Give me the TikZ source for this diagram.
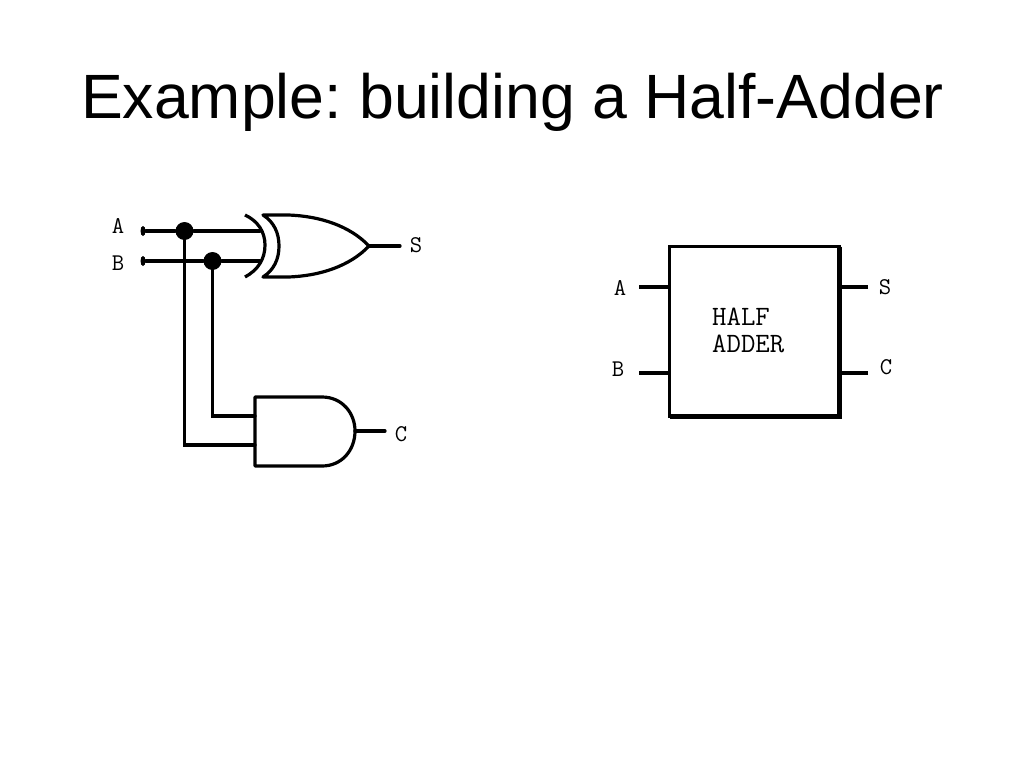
\documentclass[tikz,border=0pt]{standalone}
\usepackage{fontspec}
\setmainfont{Liberation Sans}
\usetikzlibrary{arrows, shapes.geometric}
\tikzstyle{wire} = [line width=3.2pt, line cap=round]
\tikzstyle{gate} = [line width=3.2pt, line join=round]
\tikzstyle{junction} = [circle, fill=black, inner sep=0pt, minimum size=18pt]
\tikzstyle{pin} = [ellipse, fill=black, inner sep=0pt, minimum width=5pt, minimum height=10pt]
\tikzstyle{letter} = [inner sep=0pt, font=\ttfamily\fontsize{24}{24}\selectfont]
\tikzstyle{block} = [rectangle, draw=black, line width=3.6pt, outer sep=0pt, minimum width=170pt, minimum height=170pt]

\begin{document}
\begin{tikzpicture}[x=1pt, y=-1pt]
    \useasboundingbox (0,0) rectangle (1024,768);

    % Title
    \node (title) [inner sep=0pt, font=\frenchspacing\fontsize{62.6}{62.6}\selectfont] at (512.5,102) {Example: building a Half-Adder};

    % Nodes: circuit
    \node (labelA) [letter] at (118,226) {A};
    \node (labelB) [letter] at (118,263) {B};
    \node (labelS) [letter] at (416,245) {S};
    \node (labelC) [letter] at (401,434) {C};
    \node (pinA) [pin] at (143,231) {};
    \node (pinB) [pin] at (143,261) {};
    \node (dotA) [junction] at (184.5,231) {};
    \node (dotB) [junction] at (212.5,261) {};

    % Gate pins
    \coordinate (xorInA) at (260,231);
    \coordinate (xorInB) at (260,261);
    \coordinate (xorOut) at (369,246);
    \coordinate (andInB) at (255,416);
    \coordinate (andInA) at (255,445);
    \coordinate (andOut) at (355,431);
    \coordinate (endS) at (400,246);
    \coordinate (endC) at (385,431);

    % XOR gate
    \draw [gate] (245,215) .. controls (258,221) and (265,232) .. (265,245) .. controls (265,259) and (258,270) .. (245,277);
    \draw [gate] (263,215) .. controls (274,222) and (279,233) .. (279,246) .. controls (279,259) and (274,270) .. (263,277)
        -- (288,277) .. controls (320,276) and (350,266) .. (xorOut) .. controls (350,226) and (320,216) .. (288,215) -- cycle;

    % AND gate
    \draw [gate] (255,397) -- (322,397) .. controls (342,397) and (355,413) .. (andOut) .. controls (355,450) and (342,466) .. (322,466) -- (255,466) -- cycle;

    % Wires
    \draw [wire] (pinA) -- (dotA) -- (xorInA);
    \draw [wire] (pinB) -- (dotB) -- (xorInB);
    \draw [wire, line join=miter] (dotA) |- (andInA);
    \draw [wire, line join=miter] (dotB) |- (andInB);
    \draw [wire] (xorOut) -- (endS);
    \draw [wire] (andOut) -- (endC);

    % Nodes: block
    \node (halfAdder) [block] at (754.6,331.6) {};
    \node (blockText) [inner sep=0pt, align=left, anchor=west, font=\ttfamily\fontsize{28}{27}\selectfont] at (712,330) {HALF\\ADDER};
    \node (blockA) [letter] at (620,288) {A};
    \node (blockB) [letter] at (618,369) {B};
    \node (blockS) [letter] at (885,287) {S};
    \node (blockC) [letter] at (886,367) {C};
    \coordinate (stubA) at (639,287);
    \coordinate (stubB) at (639,373);
    \coordinate (stubS) at (868,287);
    \coordinate (stubC) at (868,373);

    % Heavier right and bottom edges
    \draw [line width=5pt, line cap=square] (halfAdder.north east) -- (halfAdder.south east) -- (halfAdder.south west);

    % Block wires
    \draw [wire, line cap=butt] (stubA) -- (stubA -| halfAdder.west);
    \draw [wire, line cap=butt] (stubB) -- (stubB -| halfAdder.west);
    \draw [wire, line cap=butt] (stubS) -- (stubS -| halfAdder.east);
    \draw [wire, line cap=butt] (stubC) -- (stubC -| halfAdder.east);

\end{tikzpicture}
\end{document}
